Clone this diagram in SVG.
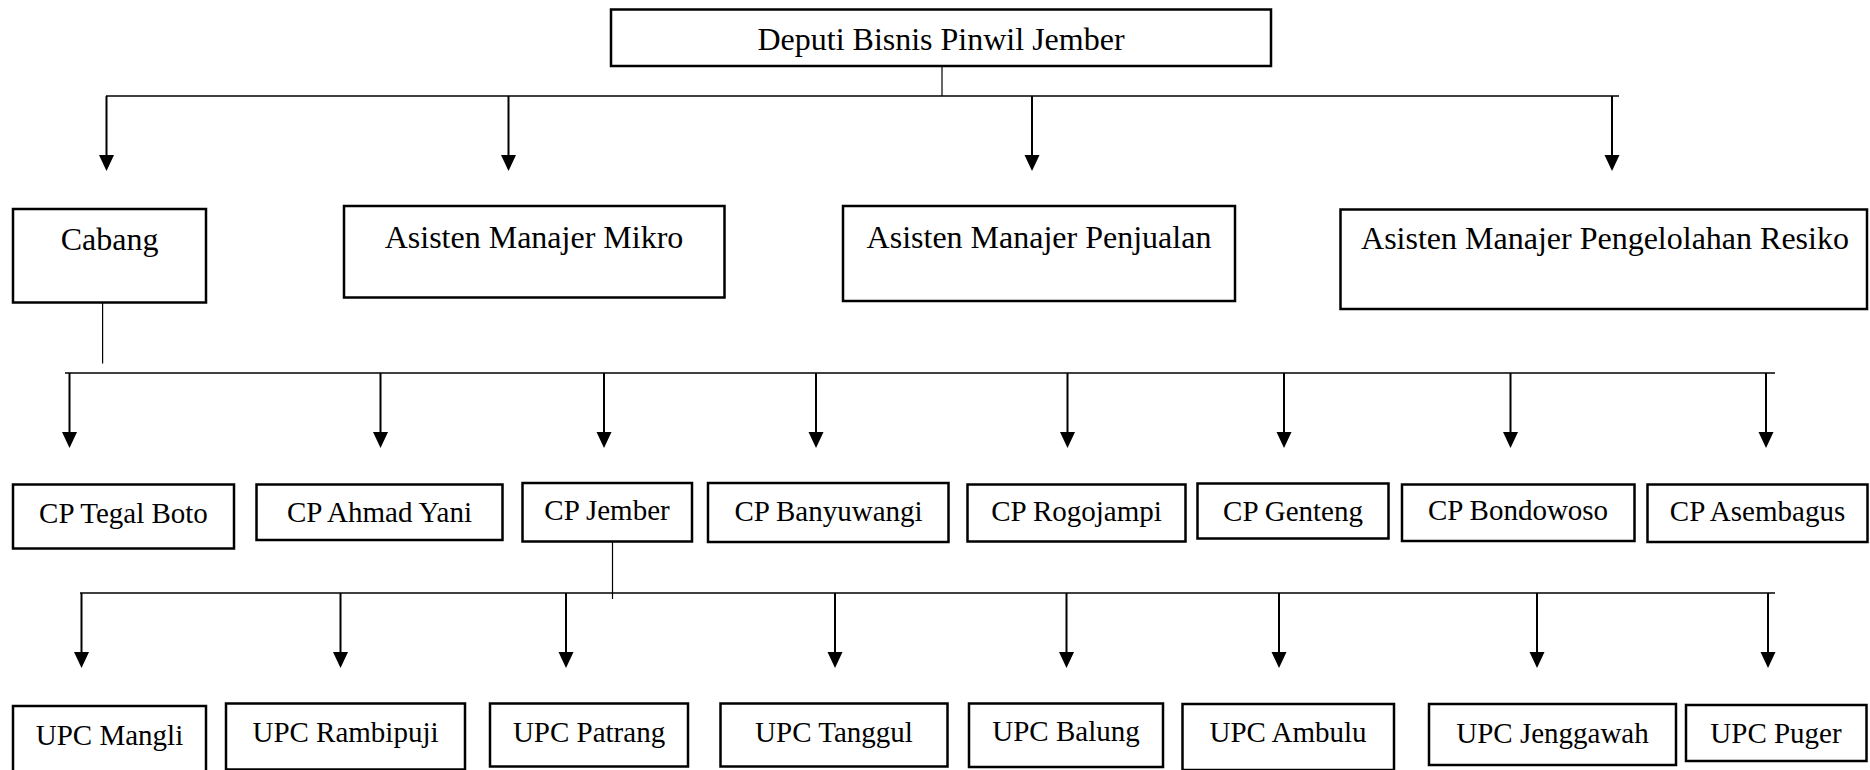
<svg xmlns="http://www.w3.org/2000/svg" width="1870" height="770" viewBox="0 0 1870 770">
<style>
.box{fill:#fff;stroke:#000;stroke-width:2.5}
.t{font-family:"Liberation Serif","Times New Roman",serif;fill:#000;text-anchor:middle}
.t1{font-size:32px}
.t2{font-size:29px}
.bus{stroke:#000;stroke-width:1.5;fill:none}
.stub{stroke:#000;stroke-width:1.2;fill:none}
.arr{stroke:#000;stroke-width:2;fill:none;marker-end:url(#ah)}
</style>
<defs>
<marker id="ah" markerUnits="userSpaceOnUse" viewBox="0 -8 16 16" markerWidth="16" markerHeight="16" refX="6" refY="0" orient="auto">
<path d="M0,-7.5 L16,0 L0,7.5 z" fill="#000"/>
</marker>
</defs>
<rect width="1870" height="770" fill="#fff"/>

<g id="connectors">
<line class="stub" x1="942" y1="58" x2="942" y2="96"/>
<line class="bus" x1="106" y1="96" x2="1619" y2="96"/>
<line class="arr" x1="106.5" y1="96" x2="106.5" y2="161"/>
<line class="arr" x1="508.5" y1="96" x2="508.5" y2="161"/>
<line class="arr" x1="1032" y1="96" x2="1032" y2="161"/>
<line class="arr" x1="1612" y1="96" x2="1612" y2="161"/>

<line class="stub" x1="102.6" y1="302" x2="102.6" y2="363.5"/>
<line class="bus" x1="65" y1="373" x2="1775" y2="373"/>
<line class="arr" x1="69.5" y1="373" x2="69.5" y2="438"/>
<line class="arr" x1="380.5" y1="373" x2="380.5" y2="438"/>
<line class="arr" x1="604" y1="373" x2="604" y2="438"/>
<line class="arr" x1="816" y1="373" x2="816" y2="438"/>
<line class="arr" x1="1067.5" y1="373" x2="1067.5" y2="438"/>
<line class="arr" x1="1284" y1="373" x2="1284" y2="438"/>
<line class="arr" x1="1510.5" y1="373" x2="1510.5" y2="438"/>
<line class="arr" x1="1766" y1="373" x2="1766" y2="438"/>

<line class="stub" x1="612.5" y1="538" x2="612.5" y2="599"/>
<line class="bus" x1="80" y1="593" x2="1775" y2="593"/>
<line class="arr" x1="81.5" y1="593" x2="81.5" y2="658"/>
<line class="arr" x1="340.5" y1="593" x2="340.5" y2="658"/>
<line class="arr" x1="566" y1="593" x2="566" y2="658"/>
<line class="arr" x1="835" y1="593" x2="835" y2="658"/>
<line class="arr" x1="1066.5" y1="593" x2="1066.5" y2="658"/>
<line class="arr" x1="1279" y1="593" x2="1279" y2="658"/>
<line class="arr" x1="1537" y1="593" x2="1537" y2="658"/>
<line class="arr" x1="1768" y1="593" x2="1768" y2="658"/>
</g>

<g id="deputi">
<rect class="box" x="611" y="9.5" width="660" height="56.5"/>
<text class="t t1" x="941" y="50">Deputi Bisnis Pinwil Jember</text>
</g>

<g id="cabang">
<rect class="box" x="13" y="209" width="193" height="93.5"/>
<text class="t t1" x="109.5" y="249.5">Cabang</text>
</g>
<g id="am-mikro">
<rect class="box" x="344" y="206" width="380.5" height="91.5"/>
<text class="t t1" x="534" y="247.5">Asisten Manajer Mikro</text>
</g>
<g id="am-penjualan">
<rect class="box" x="843" y="206" width="392" height="95"/>
<text class="t t1" x="1039" y="247.5">Asisten Manajer Penjualan</text>
</g>
<g id="am-resiko">
<rect class="box" x="1340.5" y="209.5" width="526.5" height="99.5"/>
<text class="t t1" x="1605" y="249">Asisten Manajer Pengelolahan Resiko</text>
</g>

<g id="cp-tegal-boto">
<rect class="box" x="13" y="484.5" width="221" height="64"/>
<text class="t t2" x="123.5" y="523">CP Tegal Boto</text>
</g>
<g id="cp-ahmad-yani">
<rect class="box" x="256.5" y="484.5" width="246" height="55.5"/>
<text class="t t2" x="379.5" y="522">CP Ahmad Yani</text>
</g>
<g id="cp-jember">
<rect class="box" x="522.5" y="483" width="169.5" height="58.5"/>
<text class="t t2" x="607" y="520">CP Jember</text>
</g>
<g id="cp-banyuwangi">
<rect class="box" x="708" y="483" width="240.5" height="59"/>
<text class="t t2" x="828.5" y="521">CP Banyuwangi</text>
</g>
<g id="cp-rogojampi">
<rect class="box" x="967.5" y="484.5" width="218" height="57"/>
<text class="t t2" x="1076.5" y="521">CP Rogojampi</text>
</g>
<g id="cp-genteng">
<rect class="box" x="1197.5" y="483.5" width="191" height="55"/>
<text class="t t2" x="1293" y="521">CP Genteng</text>
</g>
<g id="cp-bondowoso">
<rect class="box" x="1402" y="484.5" width="232.5" height="56.5"/>
<text class="t t2" x="1518" y="520">CP Bondowoso</text>
</g>
<g id="cp-asembagus">
<rect class="box" x="1647.5" y="484.5" width="220" height="57.5"/>
<text class="t t2" x="1757.5" y="521">CP Asembagus</text>
</g>

<g id="upc-mangli">
<rect class="box" x="13" y="706" width="193" height="70"/>
<text class="t t2" x="109.5" y="745">UPC Mangli</text>
</g>
<g id="upc-rambipuji">
<rect class="box" x="226" y="703.5" width="239" height="66"/>
<text class="t t2" x="345.5" y="742">UPC Rambipuji</text>
</g>
<g id="upc-patrang">
<rect class="box" x="490" y="703.5" width="198" height="63"/>
<text class="t t2" x="589" y="742">UPC Patrang</text>
</g>
<g id="upc-tanggul">
<rect class="box" x="720.5" y="703.5" width="227" height="63"/>
<text class="t t2" x="834" y="742">UPC Tanggul</text>
</g>
<g id="upc-balung">
<rect class="box" x="969" y="703.5" width="194" height="63.5"/>
<text class="t t2" x="1066" y="741">UPC Balung</text>
</g>
<g id="upc-ambulu">
<rect class="box" x="1182.5" y="704" width="211.5" height="66"/>
<text class="t t2" x="1288" y="742">UPC Ambulu</text>
</g>
<g id="upc-jenggawah">
<rect class="box" x="1429" y="704" width="247" height="61"/>
<text class="t t2" x="1552.5" y="743">UPC Jenggawah</text>
</g>
<g id="upc-puger">
<rect class="box" x="1686" y="705" width="180.5" height="56"/>
<text class="t t2" x="1776" y="743">UPC Puger</text>
</g>
</svg>
